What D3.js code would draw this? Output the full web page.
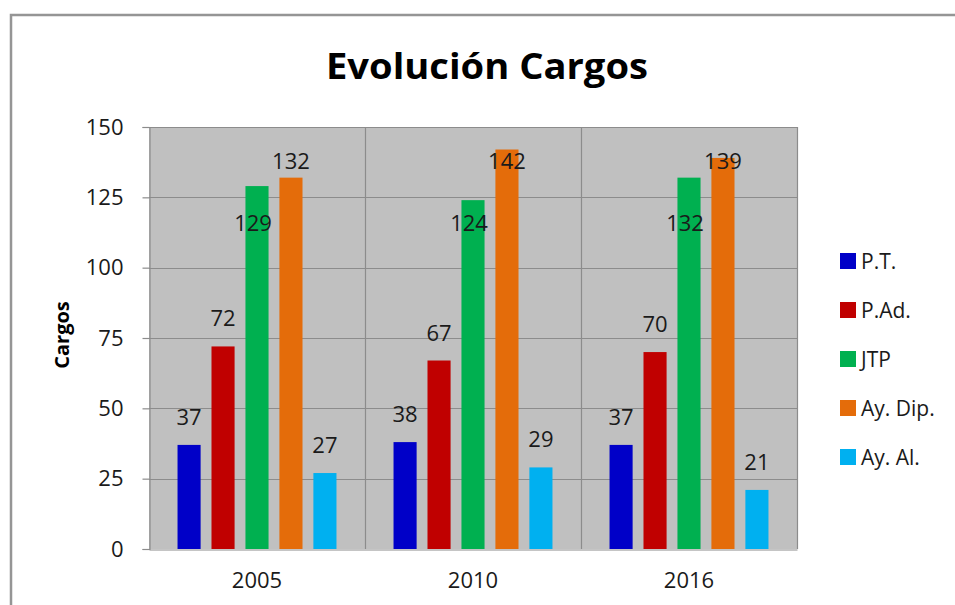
<!DOCTYPE html>
<html>
<head>
<meta charset="utf-8">
<script src="https://cdn.jsdelivr.net/npm/d3@7"></script>
<style>
  html, body { margin: 0; padding: 0; background: #fff; }
  svg { display: block; }
  text { font-family: "Open Sans", "Noto Sans", sans-serif; }
</style>
</head>
<body>
<svg id="chart" width="955" height="605"></svg>
<script>
// Years shown on the category axis
const years = ["2005", "2010", "2016"];
// Position types (legend order)
const series = ["P.T.", "P.Ad.", "JTP", "Ay. Dip.", "Ay. Al."];
// Number of positions per type and year
const ptValues    = [37, 38, 37];
const padValues   = [72, 67, 70];
const jtpValues   = [129, 124, 132];
const ayDipValues = [132, 142, 139];
const ayAlValues  = [27, 29, 21];
// Value axis ticks
const yTicks = [0, 25, 50, 75, 100, 125, 150];
const colors = ["#0000C8", "#C00000", "#00B050", "#E46C0A", "#00B0F0"];

const valuesBySeries = [ptValues, padValues, jtpValues, ayDipValues, ayAlValues];
const rows = years.map((yr, i) => ({
  year: yr,
  items: series.map((s, j) => ({ key: s, value: valuesBySeries[j][i], idx: j }))
}));

const svg = d3.select("#chart");
const plot = { left: 149, right: 797, top: 127, bottom: 549 };

// Outer chart frame
svg.append("path")
  .attr("d", "M11,610 L11,15 L960,15")
  .attr("fill", "none").attr("stroke", "#959595").attr("stroke-width", 2.5);

// Title
svg.append("text")
  .attr("x", 487).attr("y", 79)
  .attr("text-anchor", "middle")
  .attr("font-size", 36).attr("font-weight", 700)
  .attr("textLength", 322).attr("lengthAdjust", "spacingAndGlyphs")
  .attr("fill", "#000")
  .text("Evolución Cargos");

const x0 = d3.scaleBand().domain(years).range([plot.left, plot.right]).padding(0);
const x1 = d3.scaleBand().domain(series).range([0, x0.bandwidth()])
  .paddingInner(0.32).paddingOuter(0.84);
const y = d3.scaleLinear().domain([0, 150]).range([plot.bottom, plot.top]);

// Plot background
svg.append("rect")
  .attr("x", plot.left).attr("y", plot.top)
  .attr("width", plot.right - plot.left).attr("height", plot.bottom - plot.top)
  .attr("fill", "#C0C0C0");

// Horizontal gridlines
svg.append("g").selectAll("line").data(yTicks.filter(t => t > 0)).join("line")
  .attr("x1", plot.left).attr("x2", plot.right)
  .attr("y1", d => Math.round(y(d)) + 0.5).attr("y2", d => Math.round(y(d)) + 0.5)
  .attr("stroke", "#8C8C8C").attr("stroke-width", 1.2);

// Vertical category separators and right border
svg.append("g").selectAll("line").data(years.slice(1)).join("line")
  .attr("x1", d => Math.round(x0(d)) + 0.5).attr("x2", d => Math.round(x0(d)) + 0.5)
  .attr("y1", plot.top).attr("y2", plot.bottom)
  .attr("stroke", "#8C8C8C").attr("stroke-width", 1.2);
svg.append("line")
  .attr("x1", plot.right + 0.5).attr("x2", plot.right + 0.5)
  .attr("y1", plot.top).attr("y2", plot.bottom)
  .attr("stroke", "#8C8C8C").attr("stroke-width", 1.2);

// Value axis
const yAxis = svg.append("g")
  .attr("transform", `translate(${plot.left + 0.5},0)`)
  .call(d3.axisLeft(y).tickValues(yTicks).tickSize(7).tickPadding(19));
yAxis.select(".domain").attr("stroke", "#8C8C8C").attr("stroke-width", 1.2);
yAxis.selectAll(".tick line").attr("stroke", "#8C8C8C").attr("stroke-width", 1.2);
yAxis.selectAll(".tick text")
  .attr("font-size", 22).attr("fill", "#1a1a1a")
  .attr("font-family", "'Open Sans', sans-serif");

// Category axis
const xAxis = svg.append("g")
  .attr("transform", `translate(0,${plot.bottom + 0.5})`)
  .call(d3.axisBottom(x0).tickSize(0).tickPadding(23));
xAxis.select(".domain").attr("stroke", "#8C8C8C").attr("stroke-width", 1.2);
xAxis.selectAll(".tick text")
  .attr("font-size", 22).attr("fill", "#1a1a1a")
  .attr("font-family", "'Open Sans', sans-serif");

// Axis title
svg.append("text")
  .attr("transform", "translate(69,335) rotate(-90)")
  .attr("text-anchor", "middle")
  .attr("font-size", 20).attr("font-weight", 700).attr("fill", "#000")
  .text("Cargos");

// Bars
const groups = svg.append("g").selectAll("g").data(rows).join("g")
  .attr("transform", d => `translate(${x0(d.year)},0)`);

groups.selectAll("rect").data(d => d.items).join("rect")
  .attr("x", d => x1(d.key))
  .attr("width", x1.bandwidth())
  .attr("y", d => y(d.value))
  .attr("height", d => y(0) - y(d.value))
  .attr("fill", d => colors[d.idx]);

// Value labels: above the bar, kept inside the plot; JTP labels sit at a shared level
const jtpLabelLevel = 113;
groups.selectAll("text.val").data(d => d.items).join("text")
  .attr("class", "val")
  .attr("x", d => x1(d.key) + x1.bandwidth() / 2 + (d.key === "JTP" ? -4 : 0))
  .attr("y", d => d.key === "JTP"
    ? y(jtpLabelLevel)
    : Math.max(y(d.value) - 20, plot.top + 42))
  .attr("text-anchor", "middle")
  .attr("font-size", 22).attr("fill", "#1a1a1a")
  .text(d => d.value);

// Legend
const legend = svg.append("g").attr("transform", "translate(840,0)");
const items = legend.selectAll("g").data(series).join("g")
  .attr("transform", (d, i) => `translate(0,${261 + i * 49})`);
items.append("rect")
  .attr("x", 0).attr("y", -8).attr("width", 16).attr("height", 16)
  .attr("fill", (d, i) => colors[i]);
items.append("text")
  .attr("x", 21).attr("y", 8)
  .attr("font-size", 21).attr("fill", "#1a1a1a")
  .text(d => d);
</script>
</body>
</html>
